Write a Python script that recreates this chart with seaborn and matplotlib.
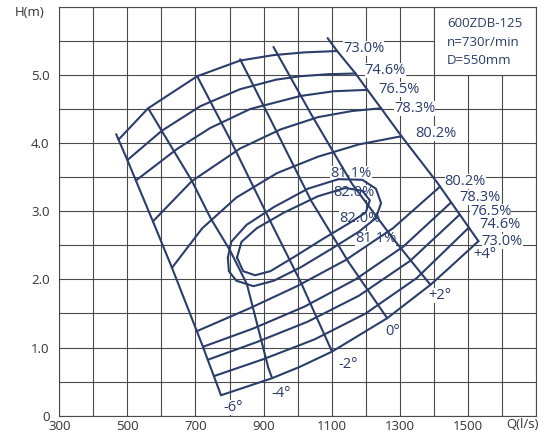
import numpy as np
import matplotlib.pyplot as plt
import matplotlib.patches as patches
import seaborn as sns

# blade angle H-Q curves (Q in l/s, H in m), top -> bottom
q_m6 = [467, 474, 500, 525, 575, 631, 704, 722, 736, 754, 775]
h_m6 = [4.13, 4.05, 3.75, 3.45, 2.85, 2.17, 1.24, 1.01, 0.82, 0.58, 0.30]
q_m4 = [561, 690, 744, 802, 851, 914, 925]
h_m4 = [4.51, 3.44, 2.90, 2.42, 1.93, 0.70, 0.55]
q_m2 = [705, 802, 920, 1010, 1101]
h_m2 = [4.98, 4.05, 2.85, 1.95, 0.94]
q_0 = [831, 935, 1040, 1150, 1263]
h_0 = [5.23, 4.20, 3.15, 2.25, 1.43]
q_p2 = [929, 1040, 1160, 1280, 1390]
h_p2 = [5.41, 4.42, 3.40, 2.60, 1.92]
q_p4 = [1088, 1116, 1170, 1205, 1245, 1305, 1410, 1531]
h_p4 = [5.54, 5.35, 5.02, 4.78, 4.51, 4.10, 3.42, 2.56]

# iso-efficiency curves, upper branches
q_73u = [474, 561, 705, 831, 929, 1020, 1116]
h_73u = [4.05, 4.51, 4.98, 5.21, 5.29, 5.33, 5.35]
q_746u = [500, 601, 714, 831, 937, 1008, 1090, 1170]
h_746u = [3.75, 4.18, 4.54, 4.79, 4.93, 4.98, 5.01, 5.02]
q_765u = [525, 645, 743, 861, 1008, 1106, 1205]
h_765u = [3.45, 3.91, 4.22, 4.50, 4.69, 4.76, 4.78]
q_783u = [575, 689, 831, 950, 1060, 1160, 1245]
h_783u = [2.85, 3.44, 3.92, 4.20, 4.38, 4.47, 4.51]
q_802u = [631, 720, 820, 940, 1060, 1180, 1305]
h_802u = [2.17, 2.75, 3.20, 3.56, 3.80, 3.98, 4.10]

# iso-efficiency curves, lower branches
q_73l = [775, 925, 1008, 1101, 1263, 1390, 1439, 1531]
h_73l = [0.30, 0.55, 0.72, 0.94, 1.43, 1.92, 2.14, 2.56]
q_746l = [754, 900, 1050, 1200, 1350, 1503]
h_746l = [0.58, 0.83, 1.12, 1.50, 2.02, 2.76]
q_765l = [736, 880, 1030, 1180, 1330, 1476]
h_765l = [0.82, 1.08, 1.38, 1.76, 2.27, 2.95]
q_783l = [722, 870, 1020, 1170, 1310, 1451]
h_783l = [1.01, 1.28, 1.60, 2.00, 2.48, 3.13]
q_802l = [704, 861, 998, 1140, 1280, 1418]
h_802l = [1.24, 1.58, 1.90, 2.28, 2.75, 3.36]

# closed contours around best efficiency point
q_811 = [795, 805, 850, 930, 1030, 1120, 1190, 1230, 1245, 1230, 1180, 1100, 1010, 930, 870, 820, 798, 795]
h_811 = [2.32, 2.55, 2.80, 3.06, 3.33, 3.47, 3.46, 3.33, 3.12, 2.90, 2.70, 2.45, 2.18, 1.98, 1.90, 1.98, 2.12, 2.32]
q_820 = [822, 835, 880, 960, 1060, 1140, 1190, 1212, 1200, 1150, 1070, 990, 920, 875, 840, 822]
h_820 = [2.32, 2.55, 2.75, 2.98, 3.22, 3.34, 3.30, 3.16, 2.98, 2.82, 2.58, 2.33, 2.12, 2.06, 2.12, 2.32]

curves = [(q_m6, h_m6), (q_m4, h_m4), (q_m2, h_m2), (q_0, h_0), (q_p2, h_p2), (q_p4, h_p4),
          (q_73u, h_73u), (q_746u, h_746u), (q_765u, h_765u), (q_783u, h_783u), (q_802u, h_802u),
          (q_73l, h_73l), (q_746l, h_746l), (q_765l, h_765l), (q_783l, h_783l), (q_802l, h_802l),
          (q_811, h_811), (q_820, h_820)]

# curve labels: text, Q, H (left edge, vertical centre)
label_txt = ['73.0%', '74.6%', '76.5%', '78.3%', '80.2%',
             '80.2%', '78.3%', '76.5%', '74.6%', '73.0%',
             '81.1%', '82.0%', '82.0%', '81.1%',
             '+4°', '+2°', '0°', '-2°', '-4°', '-6°']
label_q = [1133, 1197, 1237, 1283, 1344,
           1432, 1475, 1506, 1533, 1540,
           1096, 1106, 1121, 1168,
           1516, 1384, 1256, 1119, 924, 781]
label_h = [5.39, 5.07, 4.78, 4.51, 4.14,
           3.43, 3.20, 2.99, 2.80, 2.55,
           3.56, 3.27, 2.90, 2.60,
           2.36, 1.76, 1.23, 0.75, 0.33, 0.12]

xticks = list(range(300, 1701, 100))
xlabels = ['300', '', '500', '', '700', '', '900', '', '1100', '', '1300', '', '1500', '', '']
yticks = [0, 0.5, 1, 1.5, 2, 2.5, 3, 3.5, 4, 4.5, 5, 5.5, 6]
ylabels = ['0', '', '1.0', '', '2.0', '', '3.0', '', '4.0', '', '5.0', '', '']

info = ['600ZDB-125', 'n=730r/min', 'D=550mm']
info_h = [5.76, 5.48, 5.21]

navy = '#2b3d6b'
gridc = '#4a4a4a'

sns.set_style('white')
plt.rcParams['font.family'] = ['Open Sans', 'DejaVu Sans']

fig, ax = plt.subplots(figsize=(5.52, 4.36), dpi=100)
fig.subplots_adjust(left=0.1074, right=0.971, bottom=0.0466, top=0.9846)

for q, h in curves:
    sns.lineplot(x=q, y=h, sort=False, estimator=None, color=navy, lw=1.5, ax=ax, zorder=3)

for t, q, h in zip(label_txt, label_q, label_h):
    ax.text(q, h, t, color=navy, fontsize=10.5, ha='left', va='center', zorder=2,
            bbox=dict(facecolor='white', edgecolor='none', pad=0.0))

ax.set_xlim(300, 1700)
ax.set_ylim(0, 6)
ax.set_xticks(xticks)
ax.set_xticklabels(xlabels)
ax.set_yticks(yticks)
ax.set_yticklabels(ylabels)
ax.tick_params(axis='x', length=0, labelsize=9.5, colors='#333333', pad=3)
ax.tick_params(axis='y', length=0, labelsize=9.5, colors='#333333', pad=7)
ax.grid(True, color=gridc, lw=0.8)
ax.set_axisbelow(True)
for s in ax.spines.values():
    s.set_color(gridc)
    s.set_linewidth(0.8)

# info box in the top right corner
ax.add_patch(patches.Rectangle((1400, 5.0), 300, 1.0, facecolor='white', edgecolor=gridc, lw=0.8, zorder=1))
for t, h in zip(info, info_h):
    ax.text(1438, h, t, color=navy, fontsize=9.5, ha='left', va='center', zorder=2)

ax.text(214, 5.92, 'H(m)', fontsize=9.5, color='#333333', ha='center', va='center', clip_on=False)
ax.text(1661, -0.13, 'Q(l/s)', fontsize=9.5, color='#333333', ha='center', va='center', clip_on=False)
ax.set_xlabel('')
ax.set_ylabel('')

fig.savefig('out.png', dpi=100)
